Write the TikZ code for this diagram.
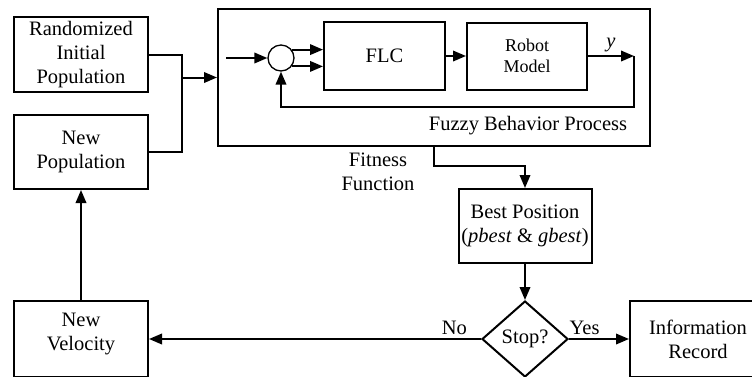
\documentclass[tikz,border=0pt]{standalone}
\usepackage{fontspec}
\setmainfont{Liberation Serif}
\usetikzlibrary{arrows.meta,shapes.geometric}

\tikzset{
  box/.style={draw,rectangle,inner sep=0pt,align=center},
}

\begin{document}
\begin{tikzpicture}[x=1pt,y=-1pt,->,>={Triangle[length=13pt,width=10.5pt]},line width=2pt,
  font=\fontsize{20.5}{24}\selectfont]

\useasboundingbox (0,0) rectangle (752,376);
\clip (0,0) rectangle (752,376);

\node[box,minimum width=134,minimum height=75] (rand) at (81,54.5) {Randomized\\Initial\\Population};
\node[box,minimum width=134,minimum height=74] (newpop) at (81,152) {New\\Population};
\node[box,minimum width=134,minimum height=76,
  label={[align=center,yshift=5pt]center:{New\\Velocity}}] (newvel) at (81,339) {};

\node[box,minimum width=432,minimum height=137] (fbp) at (434,77.5) {};
\node (fbptext) at (528,126) {Fuzzy Behavior Process};
\node[draw,circle,minimum size=26,inner sep=0pt,line width=1.3pt] (sum) at (281,58) {};
\node[box,minimum width=121,minimum height=68] (flc) at (384.5,56) {FLC};
\node[box,minimum width=120,minimum height=67,font=\fontsize{18}{21.5}\selectfont] (robot) at (527,56) {Robot\\Model};

\coordinate (in) at (226,58);
\coordinate (out) at (634,56);
\coordinate (join) at (182,77.5);

\node[align=center] (fit) at (378,172) {Fitness\\Function};
\node[box,minimum width=133,minimum height=74] (best) at (525,226) {Best Position\\(\textit{pbest} \& \textit{gbest})};
\node[draw,diamond,minimum width=86,minimum height=76,inner sep=0pt] (stop) at (525,339) {Stop?};
\node[box,minimum width=136,minimum height=76] (info) at (698,339) {Information\\Record};

% inner loop
\draw (in) -- (sum);
\draw (sum.38) -- (sum.38 -| flc.west);
\draw (sum.-38) -- (sum.-38 -| flc.west);
\draw (flc) -- (robot);
\draw (robot) -- (out) node[midway,above] {\textit{y}};
\draw (out) -- ++(0,51) -| (sum.south);

% outer loop
\draw[-] (rand) -| (join) |- (newpop);
\draw (join) -- (fbp);
\draw (fbp.south) -- ++(0,19) -| (best);
\draw (best) -- (stop);
\draw (stop) -- (info) node[pos=0.26,above] {Yes};
\draw (stop) -- (newvel) node[pos=0.08,above] {No};
\draw (newvel) -- (newpop);

\end{tikzpicture}
\end{document}
